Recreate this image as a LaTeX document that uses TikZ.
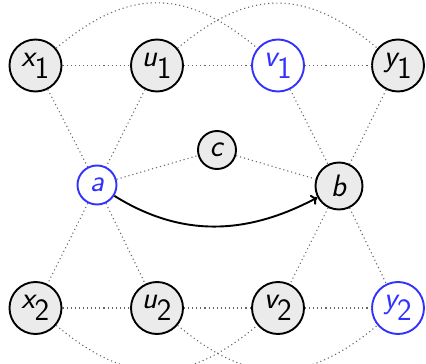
\documentclass[tikz,border=0pt]{standalone}
\usetikzlibrary{arrows.meta}
\definecolor{nodefill}{gray}{0.92}
\definecolor{myblue}{RGB}{50,50,255}
\begin{document}
\begin{tikzpicture}[x=1pt,y=-1pt,
  every node/.style={font=\fontsize{31}{34}\selectfont\sffamily},
  vtx/.style={circle,draw=black,line width=1.9pt,fill=nodefill,inner sep=0pt,minimum size=52pt},
  bvtx/.style={vtx,draw=myblue,fill=white,text=myblue},
  dot/.style={draw=black!60,line width=1.1pt,dash pattern=on 1.1pt off 3pt},
  arr/.style={draw=black,line width=1.9pt,-{To[length=6pt,width=11pt]}}]
\useasboundingbox (0,0) rectangle (426,364);
\node[vtx] (x1) at (35.5,65.5) {$\textsl{x}_{\textsf{1}}$};
\node[vtx] (u1) at (157,65.5) {$\textsl{u}_{\textsf{1}}$};
\node[bvtx] (v1) at (278,65.5) {$\textsl{v}_{\textsf{1}}$};
\node[vtx] (y1) at (398,65.5) {$\textsl{y}_{\textsf{1}}$};
\node[bvtx,minimum size=39pt] (a) at (97,185) {\textsl{a}};
\node[vtx,minimum size=38pt] (c) at (217,150) {\textsl{c}};
\node[vtx,minimum size=47pt] (b) at (339,186) {\textsl{b}};
\node[vtx] (x2) at (35.5,308) {$\textsl{x}_{\textsf{2}}$};
\node[vtx] (u2) at (157,308) {$\textsl{u}_{\textsf{2}}$};
\node[vtx] (v2) at (278,308) {$\textsl{v}_{\textsf{2}}$};
\node[bvtx] (y2) at (398,308) {$\textsl{y}_{\textsf{2}}$};
\draw[dot] (x1) -- (u1);
\draw[dot] (u1) -- (v1);
\draw[dot] (v1) -- (y1);
\draw[dot] (x2) -- (u2);
\draw[dot] (u2) -- (v2);
\draw[dot] (v2) -- (y2);
\draw[dot] (x1) -- (a);
\draw[dot] (u1) -- (a);
\draw[dot] (a) -- (x2);
\draw[dot] (a) -- (u2);
\draw[dot] (a) -- (c);
\draw[dot] (c) -- (b);
\draw[dot] (v1) -- (b);
\draw[dot] (y1) -- (b);
\draw[dot] (b) -- (v2);
\draw[dot] (b) -- (y2);
\draw[dot] (x1) to[out=40,in=140,looseness=1.2] (v1);
\draw[dot] (u1) to[out=40,in=140,looseness=1.2] (y1);
\draw[dot] (x2) to[out=-40,in=-140,looseness=1.2] (v2);
\draw[dot] (u2) to[out=-40,in=-140,looseness=1.2] (y2);
\draw[arr] (a) to[out=-32,in=-152] (b);
\end{tikzpicture}
\end{document}
